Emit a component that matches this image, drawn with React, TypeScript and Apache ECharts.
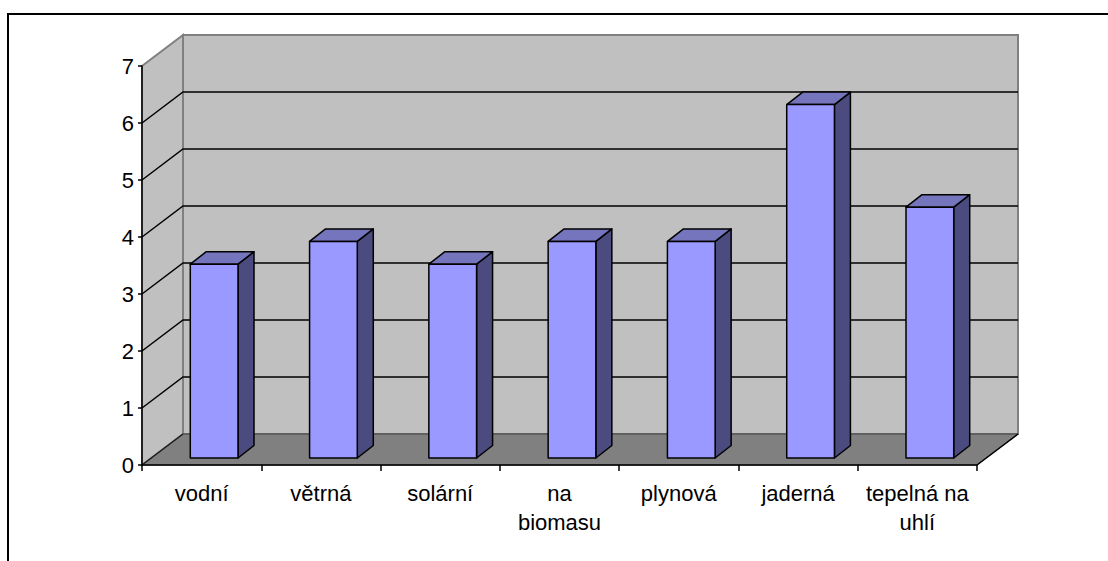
import React, { useEffect, useRef } from "react";
import * as echarts from "echarts";

const categories = ["vodní", "větrná", "solární", "na biomasu", "plynová", "jaderná", "tepelná na uhlí"];
const values = [3.4, 3.8, 3.4, 3.8, 3.8, 6.2, 4.4];
const yTicks = [0, 1, 2, 3, 4, 5, 6, 7];

const DEPTH_X = 41;
const DEPTH_Y = -31;
const BAR_FX = 12.5;
const BAR_FY = -7;
const BAR_DX = 16;
const BAR_DY = -12.5;
const FONT = "'Liberation Sans', Arial, sans-serif";

function wrapLabel(s: string) {
  if (s.length > 9) {
    const i = s.lastIndexOf(" ");
    if (i > 0) return s.slice(0, i) + "\n" + s.slice(i + 1);
  }
  return s;
}

export default function App() {
  const ref = useRef<HTMLDivElement>(null);
  useEffect(() => {
    if (!ref.current) return;
    const chart = echarts.init(ref.current, undefined, { renderer: "svg" });
    const option: any = {
      animation: false,
      backgroundColor: "#ffffff",
      graphic: [
        {
          type: "rect",
          shape: { x: 8, y: 14, width: 1300, height: 800 },
          style: { fill: "none", stroke: "#000", lineWidth: 2 },
          silent: true,
        },
      ],
      grid: { left: 142, top: 66, width: 835, height: 399 },
      xAxis: {
        type: "category",
        data: categories,
        boundaryGap: true,
        axisLine: { show: true, lineStyle: { color: "#000", width: 1.5 } },
        axisTick: { show: true, length: 6, lineStyle: { color: "#000", width: 1.5 } },
        axisLabel: {
          interval: 0,
          color: "#000",
          fontSize: 22,
          fontFamily: FONT,
          margin: 14,
          lineHeight: 29,
          formatter: (s: string) => wrapLabel(s),
        },
        splitLine: { show: false },
        z: 10,
      },
      yAxis: {
        type: "value",
        min: 0,
        max: 7,
        interval: 1,
        axisLine: { show: true, lineStyle: { color: "#000", width: 1.5 } },
        axisTick: { show: true, length: 4, lineStyle: { color: "#000", width: 1.5 } },
        axisLabel: { color: "#000", fontSize: 22, fontFamily: FONT, margin: 8 },
        splitLine: { show: false },
        z: 10,
      },
      series: [
        {
          type: "custom",
          name: "walls",
          clip: false,
          z: 1,
          silent: true,
          data: [[0, 0]],
          renderItem: (params: any, api: any) => {
            const cs = params.coordSys;
            const xL = cs.x;
            const xR = cs.x + cs.width;
            const y0 = api.coord([0, yTicks[0]])[1];
            const yTop = api.coord([0, yTicks[yTicks.length - 1]])[1];
            const children: any[] = [];
            children.push({
              type: "polygon",
              shape: {
                points: [
                  [xL + DEPTH_X, yTop + DEPTH_Y],
                  [xR + DEPTH_X, yTop + DEPTH_Y],
                  [xR + DEPTH_X, y0 + DEPTH_Y],
                  [xL + DEPTH_X, y0 + DEPTH_Y],
                ],
              },
              style: { fill: "#C0C0C0", stroke: "#808080", lineWidth: 2 },
            });
            children.push({
              type: "polygon",
              shape: {
                points: [
                  [xL, y0],
                  [xL, yTop],
                  [xL + DEPTH_X, yTop + DEPTH_Y],
                  [xL + DEPTH_X, y0 + DEPTH_Y],
                ],
              },
              style: { fill: "#C0C0C0", stroke: "#808080", lineWidth: 2 },
            });
            yTicks.forEach((t) => {
              if (t === yTicks[0] || t === yTicks[yTicks.length - 1]) return;
              const y = api.coord([0, t])[1];
              children.push({
                type: "polyline",
                shape: {
                  points: [
                    [xL, y],
                    [xL + DEPTH_X, y + DEPTH_Y],
                    [xR + DEPTH_X, y + DEPTH_Y],
                  ],
                },
                style: { fill: "none", stroke: "#000", lineWidth: 1.5 },
              });
            });
            children.push({
              type: "polygon",
              shape: {
                points: [
                  [xL, y0],
                  [xR, y0],
                  [xR + DEPTH_X, y0 + DEPTH_Y],
                  [xL + DEPTH_X, y0 + DEPTH_Y],
                ],
              },
              style: { fill: "#808080", stroke: "#404040", lineWidth: 1 },
            });
            children.push({
              type: "line",
              shape: { x1: xR, y1: y0, x2: xR + DEPTH_X, y2: y0 + DEPTH_Y },
              style: { stroke: "#000", lineWidth: 1.5 },
            });
            children.push({
              type: "line",
              shape: { x1: xL, y1: y0, x2: xL + DEPTH_X, y2: y0 + DEPTH_Y },
              style: { stroke: "#202020", lineWidth: 1.5 },
            });
            return { type: "group", children };
          },
        },
        {
          type: "custom",
          name: "bars",
          clip: false,
          z: 5,
          data: values.map((v, i) => [i, v]),
          renderItem: (params: any, api: any) => {
            const i = api.value(0);
            const v = api.value(1);
            const base = api.coord([i, 0]);
            const top = api.coord([i, v]);
            const w = api.size([1, 0])[0] * 0.4;
            const x0 = base[0] + BAR_FX - w / 2;
            const x1 = x0 + w;
            const yb = base[1] + BAR_FY;
            const yt = top[1] + BAR_FY;
            const stroke = { stroke: "#000", lineWidth: 1.5, lineJoin: "round" };
            return {
              type: "group",
              children: [
                {
                  type: "polygon",
                  shape: {
                    points: [
                      [x1, yt],
                      [x1 + BAR_DX, yt + BAR_DY],
                      [x1 + BAR_DX, yb + BAR_DY],
                      [x1, yb],
                    ],
                  },
                  style: { fill: "#4B4B80", ...stroke },
                },
                {
                  type: "polygon",
                  shape: {
                    points: [
                      [x0, yt],
                      [x1, yt],
                      [x1 + BAR_DX, yt + BAR_DY],
                      [x0 + BAR_DX, yt + BAR_DY],
                    ],
                  },
                  style: { fill: "#7575BD", ...stroke },
                },
                {
                  type: "rect",
                  shape: { x: x0, y: yt, width: w, height: yb - yt },
                  style: { fill: "#9999FF", ...stroke },
                },
              ],
            };
          },
        },
      ],
    };
    chart.setOption(option);
    return () => chart.dispose();
  }, []);
  return (
    <div
      ref={ref}
      style={{ position: "absolute", left: 0, top: 0, width: 1108, height: 561 }}
    />
  );
}
